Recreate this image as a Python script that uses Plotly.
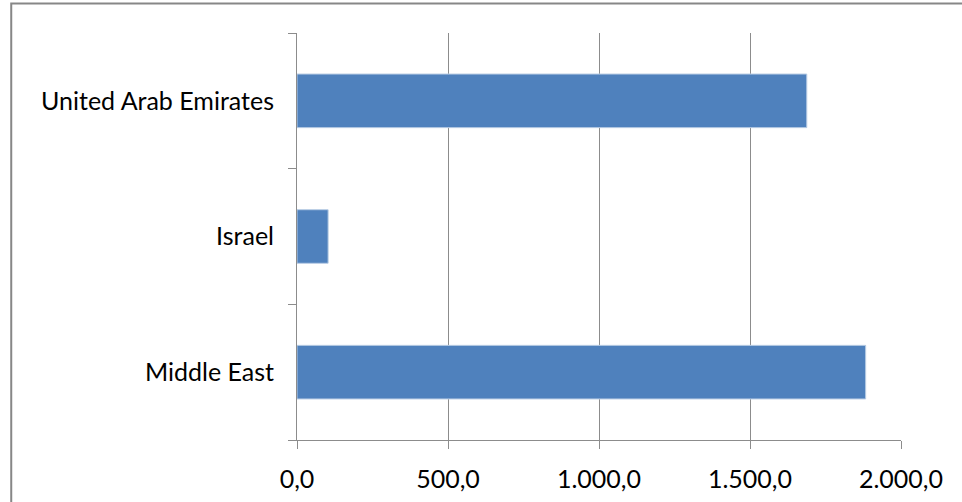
import plotly.graph_objects as go

# Values per region
regions = ["Middle East", "Israel", "United Arab Emirates"]
values = [1883.0, 103.0, 1688.0]
x_ticks = [0, 500, 1000, 1500, 2000]

W, H = 962, 502
L, R, T, B = 296.5, 61, 33, 61.5
pw, ph = W - L - R, H - T - B

def px_x(p):
    return (p - L) / pw

def px_y(p):
    return (H - B - p) / ph

fig = go.Figure(
    go.Bar(
        y=regions,
        x=values,
        orientation="h",
        marker=dict(color="#4F81BD", line=dict(color="#B8CCE4", width=1)),
        hoverinfo="x+y",
    )
)

axis_font = dict(family="Lato, Carlito, sans-serif", size=25, color="#000000")

fig.update_layout(
    width=W,
    height=H,
    margin=dict(l=L, r=R, t=T, b=B, pad=0),
    paper_bgcolor="#FFFFFF",
    plot_bgcolor="#FFFFFF",
    bargap=0.605,
    showlegend=False,
    separators=",.",
    xaxis=dict(
        range=[0, 2000],
        tickvals=x_ticks,
        tickformat=",.1f",
        showgrid=True,
        gridcolor="#8C8C8C",
        gridwidth=1,
        showline=True,
        linecolor="#8C8C8C",
        linewidth=1,
        ticks="outside",
        ticklen=8,
        tickcolor="#8C8C8C",
        tickfont=axis_font,
        ticklabelstandoff=9,
        automargin=False,
        zeroline=False,
        fixedrange=True,
    ),
    yaxis=dict(
        type="category",
        categoryorder="array",
        categoryarray=regions,
        tickson="boundaries",
        ticks="outside",
        ticklen=8,
        tickcolor="#8C8C8C",
        showline=True,
        linecolor="#8C8C8C",
        linewidth=1,
        showgrid=False,
        tickfont=axis_font,
        ticklabelstandoff=17,
        automargin=False,
        fixedrange=True,
    ),
    shapes=[
        # chart frame
        dict(
            type="rect",
            xref="paper",
            yref="paper",
            x0=px_x(10.5),
            x1=px_x(1000),
            y0=px_y(540),
            y1=px_y(3.5),
            line=dict(color="#878787", width=2),
            fillcolor="rgba(0,0,0,0)",
            layer="below",
        )
    ],
)

fig.write_html("out.html")
